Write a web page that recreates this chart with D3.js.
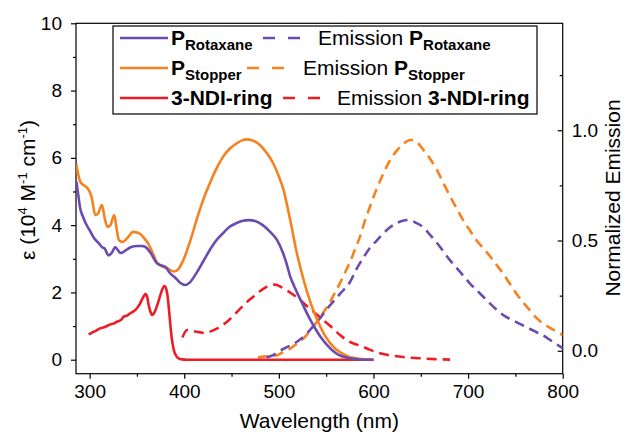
<!DOCTYPE html>
<html>
<head>
<meta charset="utf-8">
<script src="https://cdn.jsdelivr.net/npm/d3@7"></script>
<style>
  body { margin: 0; background: #fff; }
  svg { display: block; font-family: 'Liberation Sans', Arial, sans-serif; }
  .axis line { stroke: #000; stroke-width: 1.2; }
  .axis text { font-size: 19px; fill: #000; font-family: 'Liberation Sans', Arial, sans-serif; }
</style>
</head>
<body>
<div id="chart"></div>
<script>
// absorption, P rotaxane
var rotaxaneAbsNm = [286, 288, 290, 293, 296, 300, 305, 310, 313, 316, 320, 324, 327, 330, 333, 338, 344, 350, 355, 359, 365, 371, 376, 380, 385, 390, 396, 401, 406, 413, 420, 427, 434, 441, 448, 456, 462, 468, 475, 483, 490, 498, 504, 508, 512, 516, 520, 526, 532, 538, 544, 549, 555, 560, 566, 572, 580, 590, 600];
var rotaxaneAbs = [5.3, 4.9, 4.5, 4.25, 4.05, 3.85, 3.6, 3.45, 3.35, 3.3, 3.1, 3.2, 3.35, 3.25, 3.17, 3.25, 3.35, 3.38, 3.38, 3.35, 3.15, 2.87, 2.8, 2.76, 2.57, 2.45, 2.28, 2.22, 2.3, 2.58, 2.92, 3.26, 3.55, 3.76, 3.95, 4.07, 4.13, 4.15, 4.12, 4.0, 3.82, 3.56, 3.2, 2.87, 2.47, 2.2, 1.95, 1.6, 1.25, 0.95, 0.68, 0.5, 0.32, 0.2, 0.11, 0.06, 0.02, 0.0, 0.0];

// absorption, P stopper
var stopperAbsNm = [286, 288, 290, 293, 296, 299, 302, 306, 309, 313, 316, 319, 322, 326, 328, 331, 335, 340, 346, 353, 358, 362, 367, 371, 376, 382, 389, 394, 399, 406, 413, 420, 427, 434, 441, 448, 456, 461, 466, 472, 480, 487, 494, 500, 505, 512, 518, 524, 530, 536, 542, 548, 554, 560, 566, 573, 580, 590, 600];
var stopperAbs = [5.8, 5.5, 5.3, 5.2, 5.15, 5.05, 4.85, 4.3, 4.35, 4.6, 4.2, 3.95, 4.0, 4.3, 4.0, 3.55, 3.5, 3.62, 3.8, 3.75, 3.6, 3.45, 3.15, 2.9, 2.78, 2.72, 2.62, 2.7, 2.96, 3.5, 4.15, 4.75, 5.24, 5.68, 6.03, 6.27, 6.44, 6.52, 6.55, 6.52, 6.38, 6.15, 5.84, 5.45, 5.04, 4.15, 3.3, 2.6, 2.0, 1.5, 1.1, 0.75, 0.5, 0.32, 0.2, 0.1, 0.05, 0.01, 0.0];

// absorption, 3-NDI-ring
var ringAbsNm = [299, 302, 306, 311, 316, 322, 326, 329, 333, 336, 340, 343, 347, 350, 353, 355, 357, 359, 361, 362, 364, 366, 368, 371, 374, 376.5, 379, 381, 382.5, 384, 385.5, 387, 389, 391, 394, 398, 403, 450, 500, 550, 600];
var ringAbs = [0.75, 0.8, 0.85, 0.93, 0.97, 1.05, 1.08, 1.13, 1.18, 1.28, 1.32, 1.38, 1.45, 1.53, 1.65, 1.77, 1.88, 1.95, 1.85, 1.68, 1.45, 1.33, 1.38, 1.58, 1.85, 2.07, 2.19, 2.1, 1.87, 1.45, 0.98, 0.6, 0.29, 0.14, 0.04, 0.01, 0.0, 0.0, 0.0, 0.0, 0.0];

// normalized emission, P rotaxane
var rotaxaneEmNm = [487, 494, 501, 508, 515, 522, 530, 537, 544, 551, 558, 565, 575, 582, 589, 596, 603.5, 610, 617.5, 625, 631, 637, 645, 652.7, 660, 667, 674, 681, 688, 695, 702, 709, 716, 723, 730, 737, 744, 751, 758, 765, 772, 779, 788, 797, 800];
var rotaxaneEm = [-0.03, -0.02, 0.0, 0.015, 0.03, 0.05, 0.08, 0.115, 0.15, 0.19, 0.225, 0.26, 0.31, 0.37, 0.42, 0.465, 0.5, 0.53, 0.56, 0.58, 0.59, 0.593, 0.58, 0.56, 0.525, 0.49, 0.45, 0.41, 0.375, 0.34, 0.305, 0.275, 0.245, 0.215, 0.187, 0.162, 0.145, 0.13, 0.115, 0.1, 0.085, 0.07, 0.045, 0.02, 0.012];

// normalized emission, P stopper
var stopperEmNm = [478, 488, 498, 505, 512, 520, 527, 533, 540, 548, 554, 560, 565, 570, 575, 580, 586, 591, 596, 603, 610, 617, 625, 632, 639, 646, 653, 660, 667, 674, 681, 688, 695, 702, 709, 716, 723, 730, 737, 744, 751, 758, 765, 772, 779, 788, 797, 800];
var stopperEm = [-0.03, -0.025, -0.02, -0.005, 0.01, 0.035, 0.06, 0.09, 0.13, 0.18, 0.22, 0.27, 0.31, 0.355, 0.4, 0.455, 0.52, 0.59, 0.65, 0.73, 0.8, 0.86, 0.91, 0.94, 0.956, 0.945, 0.91, 0.87, 0.82, 0.76, 0.7, 0.645, 0.59, 0.545, 0.5, 0.465, 0.43, 0.39, 0.35, 0.305, 0.26, 0.22, 0.185, 0.15, 0.124, 0.1, 0.079, 0.07];

// normalized emission, 3-NDI-ring
var ringEmNm = [398, 403, 408, 413, 418, 422, 428, 434.5, 440, 445, 452, 459, 466, 473, 480, 487, 492, 496, 502, 508, 515, 522.5, 533, 544, 555, 565, 575, 588, 596, 610, 625, 640, 652, 665, 681];
var ringEm = [0.06, 0.094, 0.09, 0.086, 0.083, 0.08, 0.088, 0.1, 0.115, 0.13, 0.16, 0.19, 0.22, 0.245, 0.27, 0.29, 0.297, 0.3, 0.29, 0.275, 0.255, 0.23, 0.19, 0.15, 0.11, 0.07, 0.04, 0.02, 0.005, -0.015, -0.025, -0.032, -0.035, -0.038, -0.04];

var xTicks = [300, 400, 500, 600, 700, 800];
var xMinor = [350, 450, 550, 650, 750];
var yAbsTicks = [0, 2, 4, 6, 8, 10];
var yAbsMinor = [1, 3, 5, 7, 9];
var yEmTicks = [0, 0.5, 1.0];
var yEmMinor = [0.25, 0.75, 1.25];

var purple = '#6a4cb0';
var orange = '#f5821f';
var red = '#ee1c24';

var width = 625;
var height = 436;
var plotLeft = 76;
var plotRight = 562.7;
var plotTop = 23.3;
var plotBottom = 373.7;

var x = d3.scaleLinear().domain([285.6, 800]).range([plotLeft, plotRight]);
var yAbs = d3.scaleLinear().domain([-0.416, 10]).range([plotBottom, plotTop]);
var yEm = d3.scaleLinear().domain([-0.104, 1.485]).range([plotBottom, plotTop]);

var svg = d3.select('#chart')
    .append('svg')
    .attr('width', width)
    .attr('height', height);

svg.append('defs')
    .append('clipPath')
    .attr('id', 'plot-clip')
    .append('rect')
    .attr('x', plotLeft)
    .attr('y', plotTop)
    .attr('width', plotRight - plotLeft)
    .attr('height', plotBottom - plotTop);

// axes
function addAxis(axis, tx, ty, minor) {
    var g = svg.append('g')
        .attr('class', 'axis')
        .attr('transform', 'translate(' + tx + ',' + ty + ')')
        .call(axis);
    g.select('.domain').remove();
    if (minor) g.selectAll('text').remove();
    return g;
}

addAxis(d3.axisBottom(x).tickValues(xTicks).tickSize(5).tickPadding(6), 0, plotBottom);
addAxis(d3.axisBottom(x).tickValues(xMinor).tickSize(3), 0, plotBottom, true);

addAxis(d3.axisLeft(yAbs).tickValues(yAbsTicks).tickSize(5).tickPadding(9), plotLeft, 0);
addAxis(d3.axisLeft(yAbs).tickValues(yAbsMinor).tickSize(3), plotLeft, 0, true);

addAxis(d3.axisRight(yEm).tickValues(yEmTicks).tickSize(-5).tickPadding(9).tickFormat(d3.format('.1f')), plotRight, 0);
addAxis(d3.axisRight(yEm).tickValues(yEmMinor).tickSize(-3), plotRight, 0, true);

// frame
svg.append('rect')
    .attr('x', plotLeft)
    .attr('y', plotTop)
    .attr('width', plotRight - plotLeft)
    .attr('height', plotBottom - plotTop)
    .attr('fill', 'none')
    .attr('stroke', '#000')
    .attr('stroke-width', 1.2);

// curves
var plot = svg.append('g')
    .attr('clip-path', 'url(#plot-clip)');

function drawCurve(nm, vals, yScale, color, dashed) {
    var line = d3.line()
        .x(function(d, i) { return x(nm[i]); })
        .y(function(d) { return yScale(d); })
        .curve(d3.curveMonotoneX);

    plot.append('path')
        .datum(vals)
        .attr('d', line)
        .attr('fill', 'none')
        .attr('stroke', color)
        .attr('stroke-width', 2.6)
        .attr('stroke-dasharray', dashed ? '10,6' : null);
}

drawCurve(ringEmNm, ringEm, yEm, red, true);
drawCurve(stopperEmNm, stopperEm, yEm, orange, true);
drawCurve(rotaxaneEmNm, rotaxaneEm, yEm, purple, true);
drawCurve(ringAbsNm, ringAbs, yAbs, red, false);
drawCurve(stopperAbsNm, stopperAbs, yAbs, orange, false);
drawCurve(rotaxaneAbsNm, rotaxaneAbs, yAbs, purple, false);

// axis titles
svg.append('text')
    .attr('x', (plotLeft + plotRight) / 2)
    .attr('y', 428)
    .attr('text-anchor', 'middle')
    .style('font-size', '21px')
    .text('Wavelength (nm)');

var yTitle = svg.append('text')
    .attr('transform', 'translate(35,190) rotate(-90)')
    .attr('text-anchor', 'middle')
    .style('font-size', '21px');
yTitle.append('tspan').text('ε (10');
yTitle.append('tspan').attr('dy', -8).style('font-size', '13px').text('4');
yTitle.append('tspan').attr('dy', 8).text(' M');
yTitle.append('tspan').attr('dy', -8).style('font-size', '13px').text('-1');
yTitle.append('tspan').attr('dy', 8).text(' cm');
yTitle.append('tspan').attr('dy', -8).style('font-size', '13px').text('-1');
yTitle.append('tspan').attr('dy', 8).text(')');

svg.append('text')
    .attr('transform', 'translate(620,198) rotate(-90)')
    .attr('text-anchor', 'middle')
    .style('font-size', '21px')
    .text('Normalized Emission');

// legend
var legend = svg.append('g');

legend.append('rect')
    .attr('x', 113)
    .attr('y', 26)
    .attr('width', 424)
    .attr('height', 88)
    .attr('fill', '#fff')
    .attr('stroke', '#000')
    .attr('stroke-width', 1.2);

var legendRows = [
    { color: purple, y: 38, main: 'P', sub: 'Rotaxane', dashX: 263, textX: 318 },
    { color: orange, y: 68, main: 'P', sub: 'Stopper', dashX: 247, textX: 303 },
    { color: red, y: 98, main: '3-NDI-ring', sub: '', dashX: 283, textX: 337 }
];

function addLabel(text, prefix, row) {
    if (prefix) text.append('tspan').text(prefix);
    text.append('tspan').style('font-weight', 'bold').text(row.main);
    if (row.sub) {
        text.append('tspan')
            .attr('dy', 5)
            .style('font-weight', 'bold')
            .style('font-size', '15px')
            .text(row.sub);
    }
}

legendRows.forEach(function(row) {
    legend.append('line')
        .attr('x1', 120)
        .attr('x2', 168)
        .attr('y1', row.y)
        .attr('y2', row.y)
        .attr('stroke', row.color)
        .attr('stroke-width', 2.6);

    addLabel(legend.append('text')
        .attr('x', 171)
        .attr('y', row.y + 7)
        .style('font-size', '21px'), '', row);

    legend.append('line')
        .attr('x1', row.dashX)
        .attr('x2', row.dashX + 37)
        .attr('y1', row.y)
        .attr('y2', row.y)
        .attr('stroke', row.color)
        .attr('stroke-width', 2.6)
        .attr('stroke-dasharray', '12,13');

    addLabel(legend.append('text')
        .attr('x', row.textX)
        .attr('y', row.y + 7)
        .style('font-size', '21px'), 'Emission ', row);
});
</script>
</body>
</html>
